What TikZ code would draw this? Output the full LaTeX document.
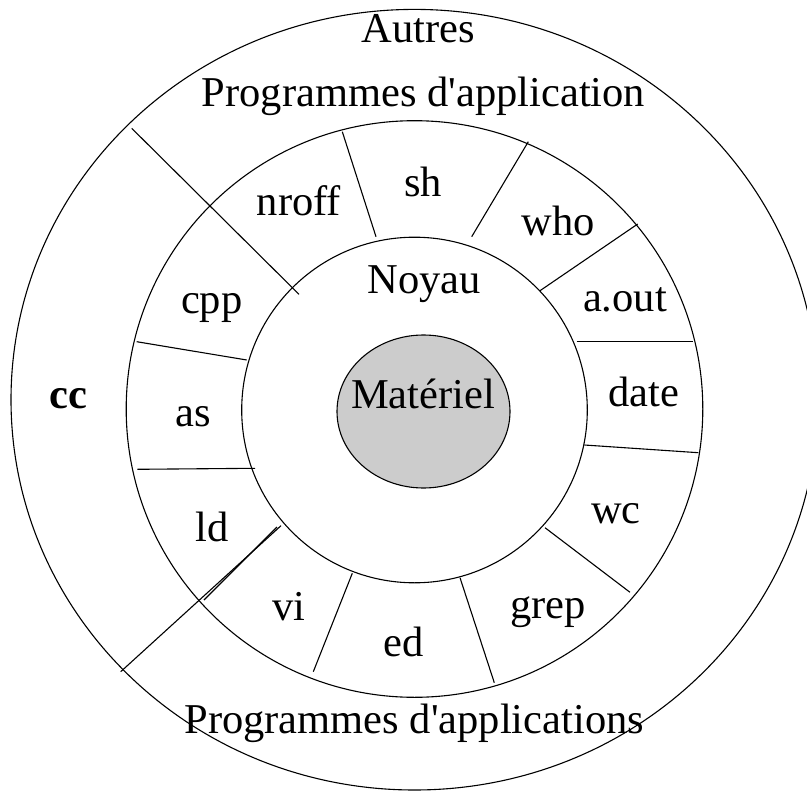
\documentclass[tikz,border=0pt]{standalone}
\usepackage{fontspec}
\setmainfont{Liberation Serif}
\usepackage{tikz}
\definecolor{materiel}{RGB}{204,204,204}

\begin{document}
\begin{tikzpicture}[x=1pt,y=-1pt,
    ring/.style={draw,line width=1.1pt},
    sep/.style={draw,line width=1.1pt},
    lbl/.style={anchor=base,inner sep=0pt,font=\fontsize{42.5}{50}\selectfont}]
    \useasboundingbox (0,0) rectangle (807,795);
    \clip (0,0) rectangle (807,795);
    \path[ring] (414.5,399.7) ellipse [x radius=403.5,y radius=390.3];
    \path[ring] (414.5,409) circle [radius=288.3];
    \path[ring] (414.5,410) circle [radius=172.8];
    \path[ring,fill=materiel] (423.5,411.5) ellipse [x radius=86.5,y radius=76.5];
    \draw[sep] (342.3,131.7) -- (376,236.7);
    \draw[sep] (528.3,141.7) -- (471.7,236.7);
    \draw[sep] (637.7,224) -- (540,290.7);
    \draw[sep] (576.7,341.7) -- (693.3,341.7);
    \draw[sep] (584.3,445) -- (698.3,452.7);
    \draw[sep] (545,527.7) -- (630,592.3);
    \draw[sep] (460,577.7) -- (494.3,682.7);
    \draw[sep] (352.3,573.3) -- (313.3,671.7);
    \draw[sep] (277,527) -- (204,600);
    \draw[sep] (120.7,671.7) -- (281,525.7);
    \draw[sep] (137.3,469.3) -- (255,468.3);
    \draw[sep] (136.7,341.7) -- (246.7,360);
    \draw[sep] (131.7,128.3) -- (299,294.3);
    \node[lbl] (autres) at (418,42.7) {Autres};
    \node[lbl] (papp) at (423.5,106.7) {Programmes d\textquotesingle application};
    \node[lbl] (nroff) at (299,215) {nroff};
    \node[lbl] (sh) at (423,196.7) {sh};
    \node[lbl] (who) at (558,235) {who};
    \node[lbl] (noyau) at (424,293.3) {Noyau};
    \node[lbl] (cpp) at (211.7,313.3) {cpp};
    \node[lbl] (aout) at (625,311) {a.out};
    \node[lbl] (mat) at (423,408.3) {Matériel};
    \node[lbl] (date) at (644,406.7) {date};
    \node[lbl,font=\fontsize{42.5}{50}\selectfont\bfseries] (cc) at (68,408.3) {cc};
    \node[lbl] (as) at (193,426.7) {as};
    \node[lbl] (ld) at (212.5,541.7) {ld};
    \node[lbl] (wc) at (616,523.3) {wc};
    \node[lbl] (vi) at (289,620) {vi};
    \node[lbl] (ed) at (404,656.7) {ed};
    \node[lbl] (grep) at (548,618.3) {grep};
    \node[lbl] (papps) at (414.3,733) {Programmes d\textquotesingle applications};
\end{tikzpicture}
\end{document}
